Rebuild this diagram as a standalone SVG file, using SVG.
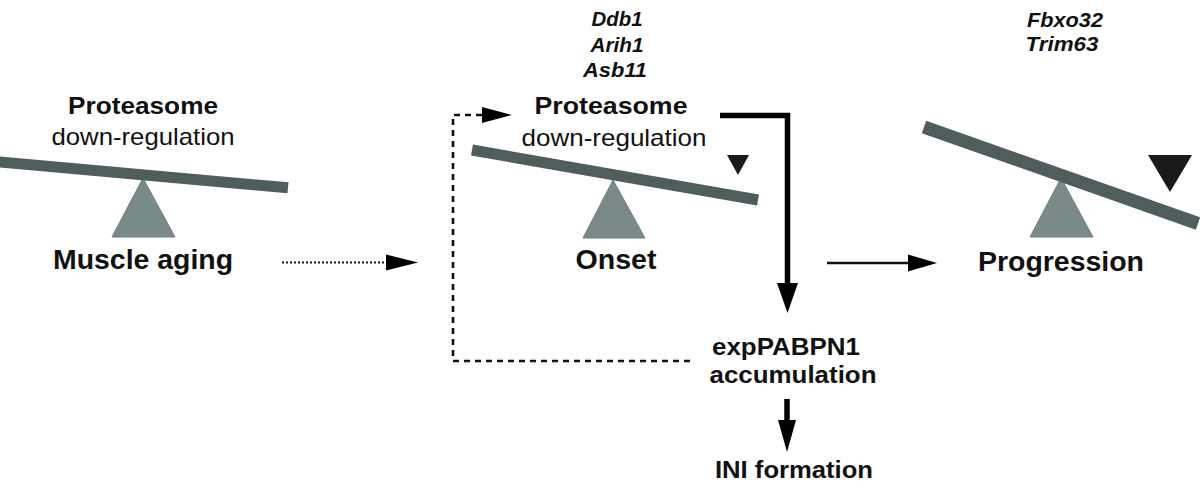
<svg xmlns="http://www.w3.org/2000/svg" width="1200" height="495" viewBox="0 0 1200 495">
<defs>
<style>
text{font-family:"Liberation Sans",Arial,Helvetica,sans-serif;fill:#111;text-anchor:middle}
.b{font-weight:bold}
.big{font-size:27px;font-weight:bold}
.mid{font-size:24px}
.gene{font-size:20px;font-weight:bold;font-style:italic}
.small{font-size:23px;font-weight:bold}
.bar{stroke:#4f5d5c;stroke-linecap:butt;fill:none}
.ful{fill:#798a89;stroke:#6f8080;stroke-width:1}
.ind{fill:#1a1a1a}
.ah{fill:#000}
</style>
</defs>
<rect width="1200" height="495" fill="#fff"/>
<g id="muscle-aging">
<polygon class="ful" points="143,178 112,237 175,237"/>
<line class="bar" x1="-5" y1="161.5" x2="288" y2="187.8" stroke-width="11"/>
<text class="mid b" x="143" y="114" textLength="150" lengthAdjust="spacingAndGlyphs">Proteasome</text>
<text class="mid" x="143" y="145" textLength="183" lengthAdjust="spacingAndGlyphs">down-regulation</text>
<text class="big" x="143" y="269" textLength="180" lengthAdjust="spacingAndGlyphs">Muscle aging</text>
</g>
<g id="onset">
<polygon class="ful" points="613,180 583,238 645,238"/>
<line class="bar" x1="472" y1="150" x2="758" y2="200" stroke-width="11"/>
<polygon class="ind" points="727,155 749,155 738,175"/>
<text class="gene" x="617" y="26" textLength="51" lengthAdjust="spacingAndGlyphs">Ddb1</text>
<text class="gene" x="617" y="52" textLength="53" lengthAdjust="spacingAndGlyphs">Arih1</text>
<text class="gene" x="615" y="77" textLength="64" lengthAdjust="spacingAndGlyphs">Asb11</text>
<text class="mid b" x="611" y="114" textLength="153" lengthAdjust="spacingAndGlyphs">Proteasome</text>
<text class="mid" x="614" y="146" textLength="185" lengthAdjust="spacingAndGlyphs">down-regulation</text>
<text class="big" x="616" y="269" textLength="81" lengthAdjust="spacingAndGlyphs">Onset</text>
</g>
<g id="progression">
<polygon class="ful" points="1061,178 1030,237 1093,237"/>
<line class="bar" x1="924" y1="127" x2="1198" y2="223.5" stroke-width="13"/>
<polygon class="ind" points="1148,155 1192,155 1170,192"/>
<text class="gene" x="1065" y="27" textLength="76" lengthAdjust="spacingAndGlyphs">Fbxo32</text>
<text class="gene" x="1062" y="51" textLength="73" lengthAdjust="spacingAndGlyphs">Trim63</text>
<text class="big" x="1061" y="271" textLength="166" lengthAdjust="spacingAndGlyphs">Progression</text>
</g>
<g id="exppabpn1">
<text class="small" x="786" y="355" textLength="148" lengthAdjust="spacingAndGlyphs">expPABPN1</text>
<text class="small" x="793" y="383" textLength="167" lengthAdjust="spacingAndGlyphs">accumulation</text>
</g>
<g id="ini">
<text class="small" x="794" y="478" textLength="158" lengthAdjust="spacingAndGlyphs">INI formation</text>
</g>
<g id="connectors">
<line x1="282" y1="262.5" x2="388" y2="262.5" stroke="#111" stroke-width="2" stroke-dasharray="2 2"/>
<polygon class="ah" points="386,254.5 418,262.5 386,270.5"/>
<line x1="827" y1="263" x2="912" y2="263" stroke="#111" stroke-width="2.5"/>
<polygon class="ah" points="908,254.5 937,263 908,271.5"/>
<path d="M690,361 H453 V115 H484" fill="none" stroke="#111" stroke-width="2.6" stroke-dasharray="6 5"/>
<polygon class="ah" points="482,107 512,115 482,123"/>
<path d="M720,115.5 H787.5 V286" fill="none" stroke="#000" stroke-width="5.5"/>
<polygon class="ah" points="777,283 798,283 787.5,313"/>
<line x1="787" y1="399" x2="787" y2="422" stroke="#000" stroke-width="5.5"/>
<polygon class="ah" points="778,420 796,420 787,452"/>
</g>
</svg>
